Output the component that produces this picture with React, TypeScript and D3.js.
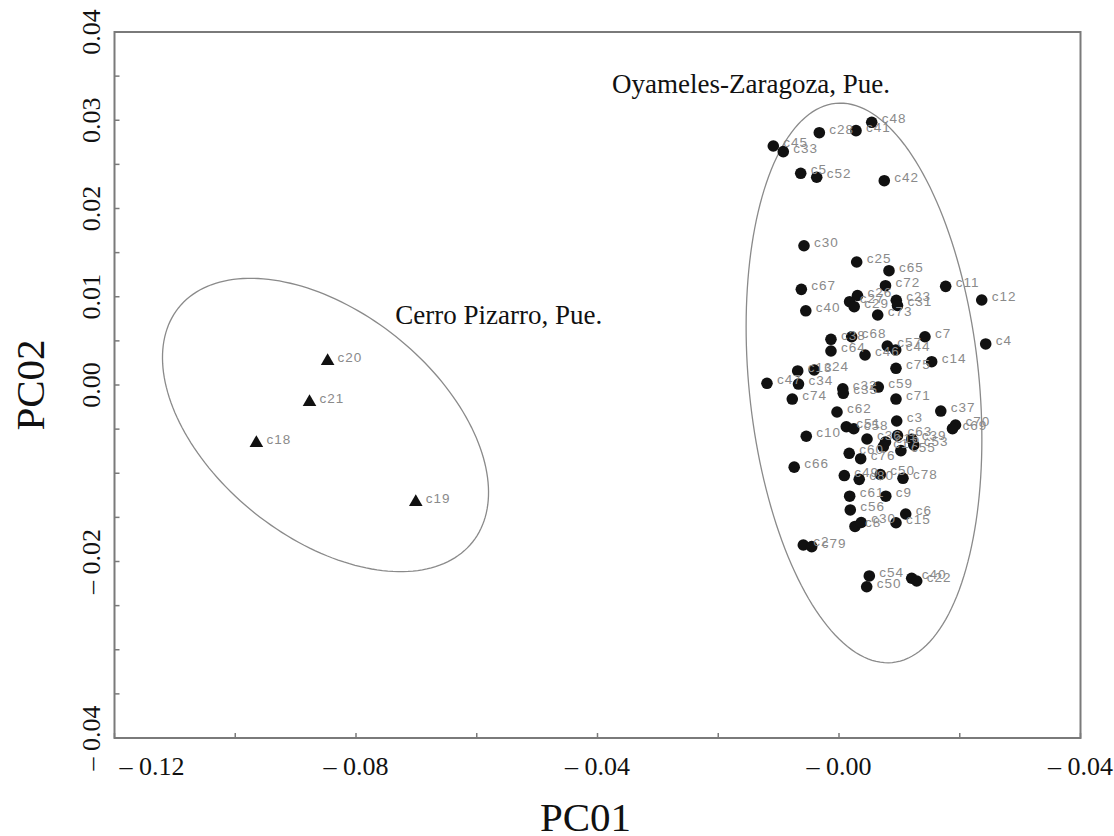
import React from "react";
import * as d3 from "d3";

// Oyameles-Zaragoza, Pue. (circles)
const oyNames = ["c45","c33","c28","c41","c48","c5","c52","c42","c30","c25","c65","c67","c72","c11","c12","c40","c26","c27","c29","c23","c31","c73","c38","c68","c64","c46","c57","c44","c7","c14","c75","c4","c13","c24","c47","c34","c74","c32","c35","c59","c71","c62","c37","c3","c10","c51","c58","c36","c63","c16","c17","c39","c53","c55","c70","c69","c60","c76","c66","c49","c80","c50","c78","c61","c9","c56","c6","c15","c8","c30","c2","c79","c54","c50","c40","c22"];
const oyPC01 = [-0.01088,-0.00923,-0.00326,0.00282,0.00542,-0.00634,-0.00369,0.0075,-0.0058,0.00293,0.00828,-0.00624,0.0077,0.01767,0.02364,-0.0055,0.00306,0.00176,0.00252,0.00949,0.00969,0.00641,-0.00133,0.0021,-0.00133,0.00431,0.008,0.00939,0.01424,0.01535,0.00944,0.0243,-0.00684,-0.00411,-0.01193,-0.00671,-0.00774,0.00063,0.00071,0.00651,0.00944,-0.00033,0.01686,0.00956,-0.00542,0.00121,0.00245,0.00464,0.00969,0.0077,0.00734,0.01204,0.01239,0.01025,0.0193,0.0188,0.00169,0.00359,-0.00742,0.00088,0.00335,0.00684,0.0106,0.00177,0.00775,0.00187,0.01105,0.00944,0.00265,0.00368,-0.00591,-0.00452,0.00502,0.00459,0.01204,0.01287];
const oyPC02 = [0.02708,0.02644,0.02859,0.02882,0.02977,0.02399,0.02354,0.02315,0.01578,0.01394,0.01295,0.01084,0.01125,0.01118,0.00963,0.00841,0.01014,0.00944,0.00887,0.0096,0.00901,0.00793,0.00518,0.00547,0.00385,0.0034,0.00442,0.00397,0.00547,0.00264,0.00189,0.00465,0.00159,0.0017,0.00019,0.00011,-0.00159,-0.00043,-0.00094,-0.00023,-0.00159,-0.00306,-0.00295,-0.00408,-0.00581,-0.00473,-0.00496,-0.00612,-0.00572,-0.00646,-0.00699,-0.00614,-0.0068,-0.00744,-0.00453,-0.00495,-0.00774,-0.00835,-0.00931,-0.01026,-0.01069,-0.01014,-0.01057,-0.0126,-0.0126,-0.01416,-0.01462,-0.01561,-0.01603,-0.01558,-0.01813,-0.01832,-0.02164,-0.02286,-0.0219,-0.02221];

// Cerro Pizarro, Pue. (triangles)
const cpNames = ["c20","c21","c18","c19"];
const cpPC01 = [-0.0847,-0.0877,-0.0965,-0.0701];
const cpPC02 = [0.00272,-0.00193,-0.00657,-0.01326];

// Ellipses: center and semi-axis vectors (data units)
const ellipseCenters = [[-0.08505,-0.00453],[0.00414,0.00023]];
const ellipseMajor = [[0.02436,-0.01326],[-0.0047,0.03168]];
const ellipseMinor = [[0.01165,0.01002],[0.01895,0.00131]];

// Group labels
const groupLabels = ["Cerro Pizarro, Pue.","Oyameles-Zaragoza, Pue."];
const groupLabelX = [-0.0735,-0.0376];
const groupLabelY = [0.0069,0.0331];

// Axis ticks
const xTickValues = [-0.12,-0.10,-0.08,-0.06,-0.04,-0.02,0.0,0.02,0.04];
const xLabelValues = [-0.12,-0.08,-0.04,0.0,0.04];
const xLabelTexts = ["\u2013 0.12","\u2013 0.08","\u2013 0.04","\u2013 0.00","\u2013 0.04"];
const yTickValues = [-0.04,-0.035,-0.03,-0.025,-0.02,-0.015,-0.01,-0.005,0,0.005,0.01,0.015,0.02,0.025,0.03,0.035,0.04];
const yLabelValues = [-0.04,-0.02,0.0,0.01,0.02,0.03,0.04];
const yLabelTexts = ["\u2013 0.04","\u2013 0.02","0.00","0.01","0.02","0.03","0.04"];

const W = 1114, H = 836;
const x = d3.scaleLinear().domain([-0.12, 0.04]).range([114.5, 1080.5]);
const y = d3.scaleLinear().domain([-0.04, 0.04]).range([738, 32]);

const serif = "'Liberation Serif', 'Times New Roman', serif";
const sans = "'Liberation Sans', Arial, sans-serif";

function ellipsePath(i: number) {
  const [cx, cy] = ellipseCenters[i];
  const [ax, ay] = ellipseMajor[i];
  const [bx, by] = ellipseMinor[i];
  const ts = d3.range(0, 2 * Math.PI, Math.PI / 90);
  const pts: [number, number][] = ts.map((t) => [
    x(cx + ax * Math.cos(t) + bx * Math.sin(t)),
    y(cy + ay * Math.cos(t) + by * Math.sin(t)),
  ]);
  return d3.line().curve(d3.curveLinearClosed)(pts) || "";
}

export default function App() {
  const tri = d3.symbol().type(d3.symbolTriangle).size(80)() || "";
  const x0 = x.range()[0], x1 = x.range()[1];
  const y0 = y.range()[0], y1 = y.range()[1];
  return (
    <svg width={W} height={H} style={{ position: "absolute", left: 0, top: 0, background: "#fff" }}>
      <rect x={0} y={0} width={W} height={H} fill="#fff" />
      {ellipseCenters.map((_, i) => (
        <path key={"e" + i} d={ellipsePath(i)} fill="none" stroke="#8a8a8a" strokeWidth={1.3} />
      ))}
      <rect x={x0} y={y1} width={x1 - x0} height={y0 - y1} fill="none" stroke="#7a7a7a" strokeWidth={2} />
      {xTickValues.map((v, i) => (
        <line key={"xt" + i} x1={x(v)} x2={x(v)} y1={y0} y2={y0 - 5} stroke="#7a7a7a" strokeWidth={1.5} />
      ))}
      {yTickValues.map((v, i) => (
        <line key={"yt" + i} x1={x0} x2={x0 + 5} y1={y(v)} y2={y(v)} stroke="#7a7a7a" strokeWidth={1.5} />
      ))}
      {xLabelValues.map((v, i) => (
        <text key={"xl" + i} x={i === 0 ? x(v) + 5 : x(v)} y={775} textAnchor={i === 0 ? "start" : "middle"}
          fontFamily={serif} fontSize={26} fill="#111">{xLabelTexts[i]}</text>
      ))}
      {yLabelValues.map((v, i) => (
        <text key={"yl" + i} transform={`translate(100,${y(v)}) rotate(-90)`} textAnchor="middle"
          fontFamily={serif} fontSize={26} fill="#111">{yLabelTexts[i]}</text>
      ))}
      <text x={(x0 + x1) / 2 - 12} y={831} textAnchor="middle" fontFamily={serif} fontSize={41} fill="#111">PC01</text>
      <text transform={`translate(44,${y(0)}) rotate(-90)`} textAnchor="middle" fontFamily={serif} fontSize={41} fill="#111">PC02</text>
      {groupLabels.map((t, i) => (
        <text key={"g" + i} x={x(groupLabelX[i])} y={y(groupLabelY[i])} fontFamily={serif} fontSize={27} fill="#111">{t}</text>
      ))}
      {oyNames.map((n, i) => (
        <circle key={"o" + i} cx={x(oyPC01[i])} cy={y(oyPC02[i])} r={5.8} fill="#111" />
      ))}
      {oyNames.map((n, i) => (
        <text key={"ot" + i} x={x(oyPC01[i]) + 10} y={y(oyPC02[i]) + 1} fontFamily={sans} fontSize={13.5}
          letterSpacing={1} fill="#8a8a8a">{n}</text>
      ))}
      {cpNames.map((n, i) => (
        <g key={"c" + i}>
          <path d={tri} transform={`translate(${x(cpPC01[i])},${y(cpPC02[i])})`} fill="#111" />
          <text x={x(cpPC01[i]) + 10} y={y(cpPC02[i]) + 1} fontFamily={sans} fontSize={13.5}
            letterSpacing={1} fill="#8a8a8a">{n}</text>
        </g>
      ))}
    </svg>
  );
}
